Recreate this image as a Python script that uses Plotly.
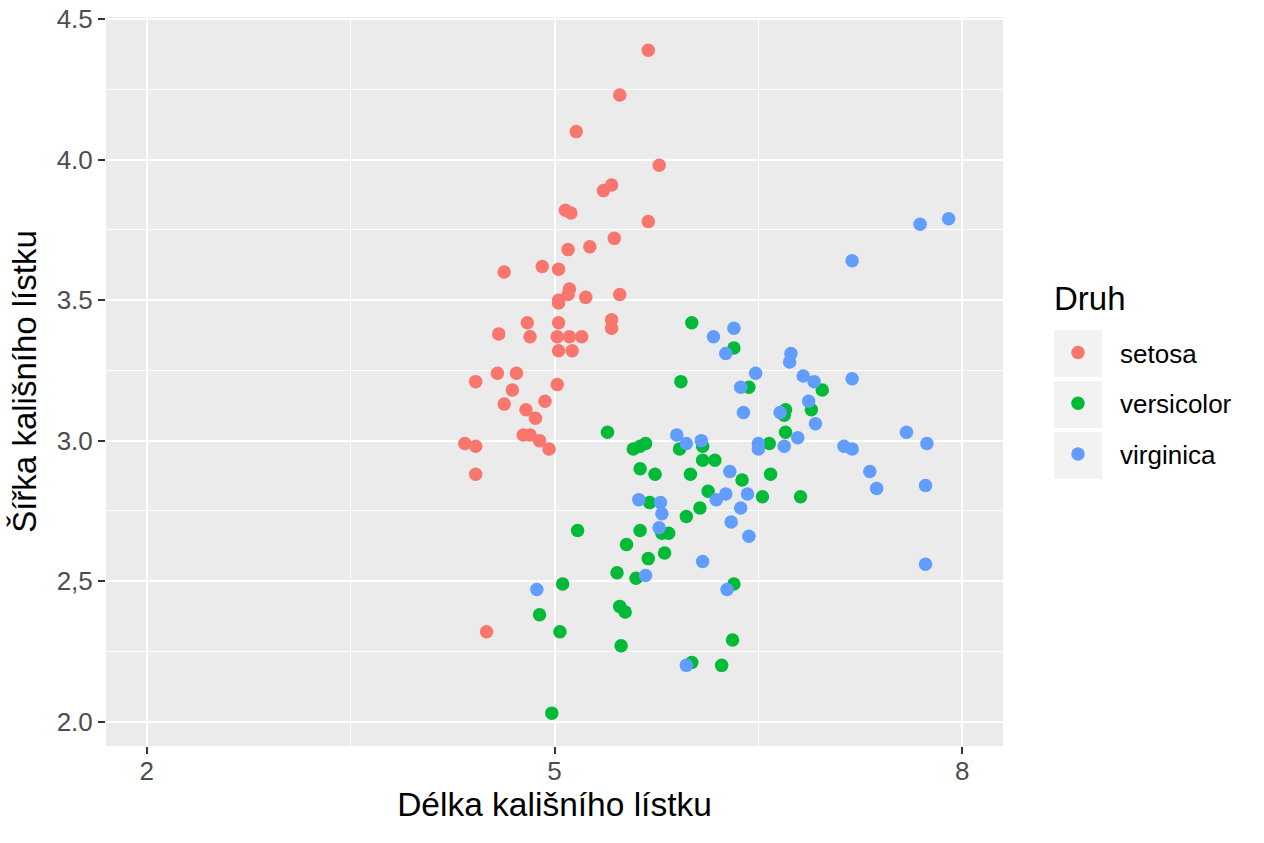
import plotly.graph_objects as go

# ---- data (jittered iris sepal measures) ----
species = ["setosa", "versicolor", "virginica"]
colors = ["#F8766D", "#00BA38", "#619CFF"]

setosa_x = [5.69, 5.48, 5.16, 5.77, 5.42, 5.36, 5.08, 5.12, 5.69, 5.44, 5.26, 5.10,
            4.91, 5.03, 4.63, 5.11, 5.10, 5.03, 5.03, 5.23, 5.48, 4.80, 5.03, 5.42,
            5.42, 4.59, 4.82, 5.02, 5.11, 5.20, 5.03, 5.13, 4.58, 4.72, 4.42, 5.02,
            4.69, 4.63, 4.93, 4.79, 4.86, 4.77, 4.82, 4.89, 4.96, 4.34, 4.42, 4.42, 4.50]
setosa_y = [4.39, 4.23, 4.10, 3.98, 3.91, 3.89, 3.82, 3.81, 3.78, 3.72, 3.69, 3.68,
            3.62, 3.61, 3.60, 3.54, 3.52, 3.49, 3.50, 3.51, 3.52, 3.42, 3.42, 3.43,
            3.40, 3.38, 3.37, 3.37, 3.37, 3.37, 3.32, 3.32, 3.24, 3.24, 3.21, 3.20,
            3.18, 3.13, 3.14, 3.11, 3.08, 3.02, 3.02, 3.00, 2.97, 2.99, 2.98, 2.88, 2.32]

versicolor_x = [6.01, 5.93, 5.39, 5.58, 5.63, 5.67, 5.92, 6.09, 6.18, 6.09, 5.63, 5.74,
                6.00, 6.13, 6.38, 5.70, 6.07, 5.97, 5.17, 5.63, 5.79, 5.84, 5.53, 5.81,
                5.69, 5.46, 5.60, 5.06, 6.32, 4.89, 5.04, 5.48, 5.52, 5.49, 6.31, 6.01,
                6.23, 4.98, 6.32, 6.43, 6.97, 6.70, 6.69, 6.89, 6.70, 6.58, 6.59, 6.53, 6.81]
versicolor_y = [3.42, 3.21, 3.03, 2.97, 2.98, 2.99, 2.97, 2.93, 2.93, 2.98, 2.90, 2.88,
                2.88, 2.82, 2.86, 2.78, 2.76, 2.73, 2.68, 2.68, 2.67, 2.67, 2.63, 2.60,
                2.58, 2.53, 2.51, 2.49, 2.49, 2.38, 2.32, 2.41, 2.39, 2.27, 2.29, 2.21,
                2.20, 2.03, 3.33, 3.19, 3.18, 3.11, 3.09, 3.11, 3.03, 2.99, 2.88, 2.80, 2.80]

virginica_x = [5.90, 5.97, 6.08, 6.29, 5.62, 5.78, 5.79, 6.26, 6.19, 6.37, 6.30, 5.77,
               6.09, 5.67, 6.27, 4.87, 6.39, 5.97, 6.32, 6.17, 6.26, 6.74, 6.73, 6.48,
               6.37, 6.83, 6.91, 7.19, 6.87, 6.66, 6.92, 6.50, 6.50, 6.69, 6.79, 7.13,
               7.19, 6.42, 7.69, 7.90, 7.19, 7.59, 7.74, 7.32, 7.37, 7.73, 6.43, 7.73]
virginica_y = [3.02, 2.99, 3.00, 2.89, 2.79, 2.78, 2.74, 2.81, 2.79, 2.76, 2.71, 2.69,
               2.57, 2.52, 2.47, 2.47, 3.10, 2.20, 3.40, 3.37, 3.31, 3.31, 3.28, 3.24,
               3.19, 3.23, 3.21, 3.22, 3.14, 3.10, 3.06, 2.99, 2.97, 2.98, 3.01, 2.98,
               2.97, 2.81, 3.77, 3.79, 3.64, 3.03, 2.99, 2.89, 2.83, 2.84, 2.66, 2.56]

x_tickvals = [2, 5, 8]
x_ticktext = ["2", "5", "8"]
y_tickvals = [2.0, 2.5, 3.0, 3.5, 4.0, 4.5]
y_ticktext = ["2.0", "2,5", "3.0", "3.5", "4.0", "4.5"]

x_title = "Délka kališního lístku"
y_title = "Šířka kališního lístku"
legend_title = "Druh"

series_x = [setosa_x, versicolor_x, virginica_x]
series_y = [setosa_y, versicolor_y, virginica_y]

FONT = "Liberation Sans, Arial, Helvetica, sans-serif"

fig = go.Figure()
for name, col, xs, ys in zip(species, colors, series_x, series_y):
    fig.add_trace(go.Scatter(
        x=xs, y=ys, mode="markers", name=name, legendgroup=name,
        marker=dict(color=col, size=13.5, line=dict(width=0)),
    ))

W, H = 1264, 843
PL, PR, PT, PB = 106, 1003, 16.5, 746.5  # plot panel in page px
L = PL
T = PT
R = W - PR
B = H - PB
pw = PR - PL
ph = PB - PT

def pxx(px):
    return (px - PL) / pw

def pxy(py):
    return 1 - (py - PT) / ph

# grey legend key backgrounds
shapes = []
for top in [330, 381, 432]:
    shapes.append(dict(type="rect", xref="paper", yref="paper", layer="below",
                       x0=pxx(1054), x1=pxx(1102),
                       y0=pxy(top + 47), y1=pxy(top),
                       fillcolor="#F2F2F2", line=dict(width=0)))

annotations = [dict(text=legend_title, xref="paper", yref="paper",
                    x=pxx(1052), y=pxy(298), xanchor="left", yanchor="middle",
                    showarrow=False, font=dict(size=33, color="#000000"))]

fig.update_layout(
    width=W, height=H,
    margin=dict(l=L, r=R, t=T, b=B, autoexpand=False),
    paper_bgcolor="white",
    plot_bgcolor="#EBEBEB",
    font=dict(family=FONT, color="#000000"),
    shapes=shapes,
    annotations=annotations,
    showlegend=True,
    legend=dict(
        font=dict(size=26, color="#000000"),
        x=pxx(1036), xanchor="left",
        y=pxy(329), yanchor="top",
        bgcolor="rgba(0,0,0,0)",
        tracegroupgap=14,
        itemwidth=74,
    ),
    xaxis=dict(
        range=[1.70, 8.30],
        tickmode="array", tickvals=x_tickvals, ticktext=x_ticktext,
        showgrid=True, gridcolor="white", gridwidth=2.3,
        minor=dict(dtick=1.5, tick0=2, showgrid=True, gridcolor="white", gridwidth=1.1, ticks=""),
        zeroline=False, showline=False,
        ticks="outside", ticklen=7, tickwidth=2, tickcolor="#333333",
        tickfont=dict(size=26, color="#4D4D4D"),
        ticklabelstandoff=-5,
        ticklabeloverflow="allow",
        title=dict(text=x_title, font=dict(size=33.5, color="#000000"), standoff=4),
        automargin=False,
    ),
    yaxis=dict(
        range=[1.913, 4.508],
        tickmode="array", tickvals=y_tickvals, ticktext=y_ticktext,
        showgrid=True, gridcolor="white", gridwidth=2.3,
        minor=dict(dtick=0.25, tick0=2, showgrid=True, gridcolor="white", gridwidth=1.1, ticks=""),
        zeroline=False, showline=False,
        ticks="outside", ticklen=7, tickwidth=2, tickcolor="#333333",
        tickfont=dict(size=26, color="#4D4D4D"),
        ticklabeloverflow="allow",
        title=dict(text=y_title, font=dict(size=33, color="#000000"), standoff=10),
        automargin=False,
    ),
)

fig.write_html("out.html",
               config={"displayModeBar": False},
               post_script="document.body.style.margin='0';document.body.style.overflow='hidden';")
